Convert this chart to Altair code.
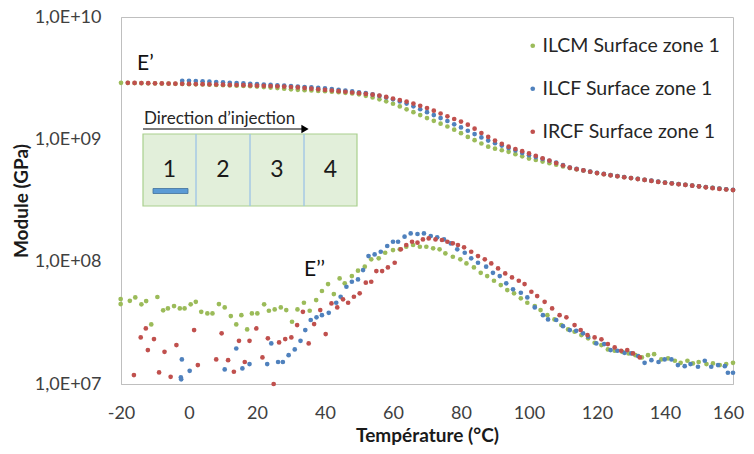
import altair as alt
import pandas as pd

series_names = ["ILCM Surface zone 1", "ILCF Surface zone 1", "IRCF Surface zone 1"]
series_colors = ["#9bbb59", "#4f81bd", "#c0504d"]

# ---- E' (storage modulus), log10 values ----
t_e1_ilcm = [-20, -18, -16, -14, -12, -10, -8, -6, -4, -2, 0, 2, 4, 6, 8, 10, 12, 14, 16, 18,
             20, 22, 24, 26, 28, 30, 32, 34, 36, 38, 40, 42, 44, 46, 48, 50, 52, 54, 56, 58,
             60, 62, 64, 66, 68, 70, 72, 74, 76, 78, 80, 82, 84, 86, 88, 90, 92, 94, 96, 98,
             100, 102, 104, 106, 108, 110, 112, 114, 116, 118, 120, 122, 124, 126, 128, 130,
             132, 134, 136, 138, 140, 142, 144, 146, 148, 150, 152, 154, 156, 158, 160]
e1_ilcm = [9.462, 9.461, 9.460, 9.459, 9.458, 9.457, 9.456, 9.455, 9.454, 9.453, 9.451, 9.450,
           9.448, 9.446, 9.444, 9.442, 9.440, 9.438, 9.436, 9.434, 9.431, 9.427, 9.423, 9.419,
           9.414, 9.409, 9.405, 9.402, 9.399, 9.396, 9.393, 9.389, 9.385, 9.380, 9.375, 9.368,
           9.356, 9.342, 9.327, 9.311, 9.291, 9.269, 9.245, 9.222, 9.198, 9.174, 9.151, 9.128,
           9.105, 9.079, 9.050, 9.020, 8.993, 8.966, 8.940, 8.924, 8.911, 8.898, 8.879, 8.861,
           8.843, 8.831, 8.818, 8.805, 8.792, 8.778, 8.765, 8.755, 8.745, 8.734, 8.724, 8.715,
           8.707, 8.699, 8.691, 8.683, 8.676, 8.668, 8.661, 8.653, 8.646, 8.640, 8.634, 8.628,
           8.622, 8.616, 8.609, 8.603, 8.597, 8.591, 8.586]

t_e1_ilcf = [-2, 0, 2, 4, 6, 8, 10, 12, 14, 16, 18, 20, 22, 24, 26, 28, 30, 32, 34, 36, 38,
             40, 42, 44, 46, 48, 50, 52, 54, 56, 58, 60, 62, 64, 66, 68, 70, 72, 74, 76, 78,
             80, 82, 84, 86, 88, 90, 92, 94, 96, 98, 100, 102, 104, 106, 108, 110, 112, 114,
             116, 118, 120, 122, 124, 126, 128, 130, 132, 134, 136, 138, 140, 142, 144, 146,
             148, 150, 152, 154, 156, 158, 160]
e1_ilcf = [9.478, 9.478, 9.476, 9.474, 9.471, 9.468, 9.465, 9.462, 9.460, 9.457, 9.454, 9.451,
           9.448, 9.445, 9.442, 9.439, 9.436, 9.432, 9.428, 9.424, 9.420, 9.416, 9.411, 9.405,
           9.399, 9.392, 9.385, 9.377, 9.367, 9.355, 9.342, 9.327, 9.310, 9.292, 9.270, 9.246,
           9.222, 9.198, 9.174, 9.150, 9.123, 9.097, 9.070, 9.043, 9.016, 8.990, 8.969, 8.949,
           8.929, 8.909, 8.889, 8.870, 8.855, 8.840, 8.825, 8.810, 8.789, 8.769, 8.758, 8.747,
           8.736, 8.726, 8.717, 8.708, 8.700, 8.692, 8.684, 8.677, 8.669, 8.662, 8.654, 8.647,
           8.641, 8.634, 8.628, 8.622, 8.616, 8.610, 8.604, 8.598, 8.592, 8.587]

t_e1_ircf = [-18, -16, -14, -12, -10, -8, -6, -4, -2, 0, 2, 4, 6, 8, 10, 12, 14, 16, 18,
             20, 22, 24, 26, 28, 30, 32, 34, 36, 38, 40, 42, 44, 46, 48, 50, 52, 54, 56, 58,
             60, 62, 64, 66, 68, 70, 72, 74, 76, 78, 80, 82, 84, 86, 88, 90, 92, 94, 96, 98,
             100, 102, 104, 106, 108, 110, 112, 114, 116, 118, 120, 122, 124, 126, 128, 130,
             132, 134, 136, 138, 140, 142, 144, 146, 148, 150, 152, 154, 156, 158, 160]
e1_ircf = [9.462, 9.461, 9.460, 9.459, 9.458, 9.457, 9.456, 9.455, 9.454, 9.453, 9.452, 9.451,
           9.450, 9.448, 9.447, 9.445, 9.444, 9.443, 9.441, 9.439, 9.437, 9.435, 9.433, 9.431,
           9.428, 9.424, 9.419, 9.414, 9.409, 9.404, 9.399, 9.394, 9.389, 9.383, 9.377, 9.371,
           9.365, 9.358, 9.347, 9.334, 9.321, 9.309, 9.292, 9.274, 9.256, 9.234, 9.211, 9.188,
           9.166, 9.145, 9.120, 9.087, 9.052, 9.020, 8.990, 8.963, 8.940, 8.921, 8.903, 8.885,
           8.865, 8.845, 8.826, 8.806, 8.786, 8.768, 8.756, 8.746, 8.735, 8.724, 8.715, 8.706,
           8.698, 8.690, 8.683, 8.675, 8.668, 8.660, 8.652, 8.645, 8.639, 8.633, 8.627, 8.621,
           8.615, 8.608, 8.601, 8.595, 8.590, 8.585]

# ---- E'' (loss modulus), log10 values ----
t_e2_ilcm = [-20.1, -20.1, -17.4, -15.8, -14.0, -12.6, -11.1, -9.3, -7.6, -6.2, -4.4, -2.7, -1.3,
             0.5, 2.0, 3.6, 5.4, 6.9, 8.8, 10.5, 12.3, 13.9, 15.4, 17.1, 18.5, 20.1, 22.1, 23.5,
             25.2, 27.0, 28.6, 30.3, 31.9, 33.8, 35.5, 37.4, 39.1, 40.9, 42.6, 44.3, 45.8, 47.9,
             49.7, 51.7, 53.6, 55.8, 57.7, 60.0, 62.0, 63.9, 65.9, 67.9, 69.8, 71.8, 73.7, 75.4,
             77.6, 79.8, 81.6, 83.8, 85.8, 87.7, 89.7, 91.7, 93.6, 95.6, 97.6, 99.5, 101.7, 103.4,
             105.4, 107.5, 109.5, 111.5, 113.4, 115.4, 117.4, 119.3, 121.3, 123.2, 125.2, 127.4,
             129.3, 131.3, 133.2, 135.0, 136.8, 138.9, 140.9, 142.9, 144.6, 146.6, 148.2, 149.9,
             152.2, 154.1, 156.1, 158.0, 160.0]
e2_ilcm = [7.694, 7.653, 7.680, 7.708, 7.651, 7.678, 7.487, 7.711, 7.602, 7.618, 7.637, 7.618, 7.618,
           7.651, 7.672, 7.590, 7.577, 7.577, 7.653, 7.626, 7.555, 7.487, 7.563, 7.446, 7.577, 7.577,
           7.651, 7.599, 7.610, 7.626, 7.604, 7.509, 7.610, 7.664, 7.599, 7.686, 7.760, 7.817, 7.735,
           7.863, 7.823, 7.882, 7.926, 7.959, 8.019, 8.027, 8.073, 8.095, 8.101, 8.122, 8.136, 8.122,
           8.122, 8.109, 8.101, 8.068, 8.040, 8.019, 7.986, 7.953, 7.909, 7.882, 7.844, 7.809, 7.768,
           7.741, 7.700, 7.664, 7.637, 7.604, 7.563, 7.528, 7.482, 7.446, 7.427, 7.400, 7.373, 7.337,
           7.318, 7.283, 7.272, 7.263, 7.250, 7.236, 7.217, 7.236, 7.244, 7.201, 7.209, 7.190, 7.173,
           7.190, 7.168, 7.180, 7.163, 7.168, 7.155, 7.163, 7.173]

t_e2_ilcf = [-2.4, -2.3, -2.1, 0.2, 10.5, 13.9, 15.7, 17.8, 23.0, 24.2, 26.2, 27.6, 29.3, 31.1,
             32.8, 34.2, 35.8, 37.5, 39.1, 41.1, 43.3, 44.6, 46.3, 47.9, 49.7, 51.2, 52.8, 54.6,
             56.4, 58.3, 60.0, 61.5, 63.4, 65.2, 67.2, 69.1, 71.1, 73.0, 75.0, 77.0, 78.9, 81.1,
             83.0, 85.0, 87.4, 89.4, 91.4, 93.3, 95.3, 97.6, 99.5, 101.7, 104.1, 105.6, 108.0,
             110.0, 112.0, 113.9, 115.9, 117.4, 119.8, 122.1, 124.0, 126.0, 128.1, 130.1, 132.1,
             134.0, 136.0, 138.1, 139.9, 141.9, 143.8, 145.8, 147.5, 149.7, 151.7, 153.6, 155.6,
             157.6, 158.5, 160.0]
e2_ilcf = [7.054, 7.038, 7.201, 7.108, 7.119, 7.290, 7.127, 7.163, 7.163, 7.332, 7.180, 7.180,
           7.236, 7.283, 7.353, 7.441, 7.523, 7.545, 7.563, 7.582, 7.664, 7.713, 7.795, 7.836,
           7.855, 7.931, 8.046, 8.059, 8.081, 8.128, 8.163, 8.163, 8.204, 8.231, 8.226, 8.231,
           8.210, 8.199, 8.182, 8.149, 8.101, 8.073, 8.027, 7.991, 7.959, 7.909, 7.882, 7.823,
           7.774, 7.746, 7.708, 7.626, 7.563, 7.528, 7.523, 7.473, 7.441, 7.435, 7.414, 7.386,
           7.332, 7.326, 7.277, 7.272, 7.255, 7.250, 7.228, 7.173, 7.195, 7.180, 7.201, 7.201,
           7.155, 7.146, 7.163, 7.141, 7.190, 7.141, 7.155, 7.146, 7.092, 7.092]

t_e2_ircf = [-16.2, -14.2, -12.7, -12.1, -10.3, -8.8, -7.2, -5.4, -3.7, 1.5, 2.6, 8.0, 9.6, 11.5,
             13.2, 14.7, 16.4, 17.8, 19.8, 21.6, 23.2, 24.9, 26.5, 28.3, 30.1, 31.8, 33.5, 35.2,
             36.8, 38.6, 40.2, 41.9, 43.6, 45.3, 46.8, 48.5, 50.2, 52.0, 53.6, 55.1, 56.8, 58.5,
             60.5, 62.3, 63.9, 65.6, 67.2, 68.8, 70.5, 72.5, 74.4, 76.0, 77.6, 79.1, 80.9, 83.0,
             85.0, 87.0, 88.9, 90.9, 93.0, 95.0, 97.0, 98.7, 100.7, 102.4, 104.6, 106.8, 109.0,
             111.0, 113.4, 115.2, 117.2, 119.3, 121.3, 123.2, 125.2, 127.1, 128.9, 130.6, 132.6]
e2_ircf = [7.073, 7.381, 7.454, 7.277, 7.367, 7.095, 7.263, 7.059, 7.318, 7.441, 7.155, 7.201,
           7.414, 7.195, 7.100, 7.353, 7.180, 7.353, 7.454, 7.217, 7.373, 7.000, 7.340, 7.367,
           7.381, 7.482, 7.590, 7.332, 7.490, 7.604, 7.408, 7.659, 7.626, 7.692, 7.664, 7.713,
           7.741, 7.828, 7.836, 7.923, 7.923, 7.953, 7.991, 8.101, 8.136, 8.163, 8.155, 8.182,
           8.190, 8.182, 8.177, 8.163, 8.150, 8.136, 8.117, 8.081, 8.046, 8.019, 7.986, 7.945,
           7.904, 7.871, 7.844, 7.817, 7.754, 7.719, 7.672, 7.618, 7.563, 7.545, 7.482, 7.441,
           7.400, 7.381, 7.365, 7.326, 7.299, 7.272, 7.277, 7.250, 7.217]

x_ticks = [-20, 0, 20, 40, 60, 80, 100, 120, 140, 160]
y_ticks = [1e7, 1e8, 1e9, 1e10]

label_e1 = "E\u2019"
label_e2 = "E\u2019\u2019"
inset_title = "Direction d\u2019injection"
inset_cells = ["1", "2", "3", "4"]

FONT = "Lato"

# ---------- build table ----------
frames = []
groups = [
    (series_names[0], t_e1_ilcm, e1_ilcm), (series_names[0], t_e2_ilcm, e2_ilcm),
    (series_names[1], t_e1_ilcf, e1_ilcf), (series_names[1], t_e2_ilcf, e2_ilcf),
    (series_names[2], t_e1_ircf, e1_ircf), (series_names[2], t_e2_ircf, e2_ircf),
]
for name, ts, vs in groups:
    df = pd.DataFrame({"T": ts, "logv": vs})
    df["series"] = name
    df["v"] = 10 ** df["logv"]
    frames.append(df)
data = pd.concat(frames, ignore_index=True)
data["ord"] = range(len(data))

points = alt.Chart(data).mark_circle(size=22, opacity=1).encode(
    x=alt.X("T:Q", title="Température (°C)",
            scale=alt.Scale(domain=[-20, 160], nice=False, zero=False),
            axis=alt.Axis(values=x_ticks, labelExpr="'' + datum.value", labelFlush=False,
                          labelOffset={"condition": {"test": "datum.value == 160", "value": -5},
                                       "value": 0})),
    y=alt.Y("v:Q", title="Module (GPa)",
            scale=alt.Scale(type="log", domain=[1e7, 1e10], nice=False),
            axis=alt.Axis(values=y_ticks, labelFlush=False,
                          labelExpr="'1,0E+' + (round(log(datum.value)/LN10) < 10 ? '0' : '') + round(log(datum.value)/LN10)")),
    color=alt.Color("series:N",
                    scale=alt.Scale(domain=series_names, range=series_colors),
                    legend=alt.Legend(title=None, orient="none", legendX=402, legendY=19,
                                      symbolType="circle", symbolSize=22, labelFontSize=19.5,
                                      labelFont=FONT, labelColor="#262626", rowPadding=22,
                                      labelOffset=0, padding=0, labelLimit=0)),
    order=alt.Order("ord:Q"),
)

dummy = pd.DataFrame({"a": [0]})
base = alt.Chart(dummy)

txt_e1 = base.mark_text(align="left", baseline="middle", font=FONT, fontSize=21, color="#111111").encode(
    x=alt.value(16), y=alt.value(47), text=alt.value(label_e1))
txt_e2 = base.mark_text(align="left", baseline="middle", font=FONT, fontSize=21, color="#111111").encode(
    x=alt.value(183), y=alt.value(253), text=alt.value(label_e2))

box = base.mark_rect(fill="#e2efda", stroke="#a9d08e", strokeWidth=1.2).encode(
    x=alt.value(22), x2=alt.value(236), y=alt.value(117), y2=alt.value(189))

layers = [points, box]
div_x = [75, 129, 183]
for dx in div_x:
    layers.append(base.mark_rule(color="#9dc3e6", strokeWidth=1.3).encode(
        x=alt.value(dx), y=alt.value(117), y2=alt.value(189)))
cell_cx = [48.5, 102, 156, 209.5]
for lab, cx in zip(inset_cells, cell_cx):
    layers.append(base.mark_text(align="center", baseline="middle", font=FONT, fontSize=23,
                                 color="#1a1a1a").encode(
        x=alt.value(cx), y=alt.value(153), text=alt.value(lab)))
layers.append(base.mark_rect(fill="#5b9bd5", stroke="#41719c", strokeWidth=0.8).encode(
    x=alt.value(32), x2=alt.value(67), y=alt.value(171.5), y2=alt.value(176.5)))
layers.append(base.mark_text(align="left", baseline="middle", font=FONT, fontSize=17,
                             color="#262626").encode(
    x=alt.value(23), y=alt.value(102), text=alt.value(inset_title)))
layers.append(base.mark_rule(color="#7f7f7f", strokeWidth=2).encode(
    x=alt.value(22), x2=alt.value(182), y=alt.value(112)))
layers.append(base.mark_point(shape="triangle-right", filled=True, color="#000000", size=70, opacity=1).encode(
    x=alt.value(184), y=alt.value(112)))
layers.append(txt_e1)
layers.append(txt_e2)

chart = alt.layer(*layers).properties(
    width=612, height=367,
    autosize=alt.AutoSizeParams(type="none"),
    padding={"left": 113, "top": 9, "right": 13, "bottom": 62},
).configure_view(stroke="#bfbfbf", strokeWidth=1).configure_axis(
    grid=False, ticks=False, domainColor="#bfbfbf", domainWidth=1,
    labelFont=FONT, labelFontSize=18, labelColor="#404040",
    titleFont=FONT, titleFontSize=19, titleFontWeight="bold", titleColor="#1a1a1a",
).configure_axisX(labelPadding=20, titlePadding=4).configure_axisY(labelPadding=20, titlePadding=3)

chart.save("out.html", embed_options={"renderer": "svg", "actions": False})
